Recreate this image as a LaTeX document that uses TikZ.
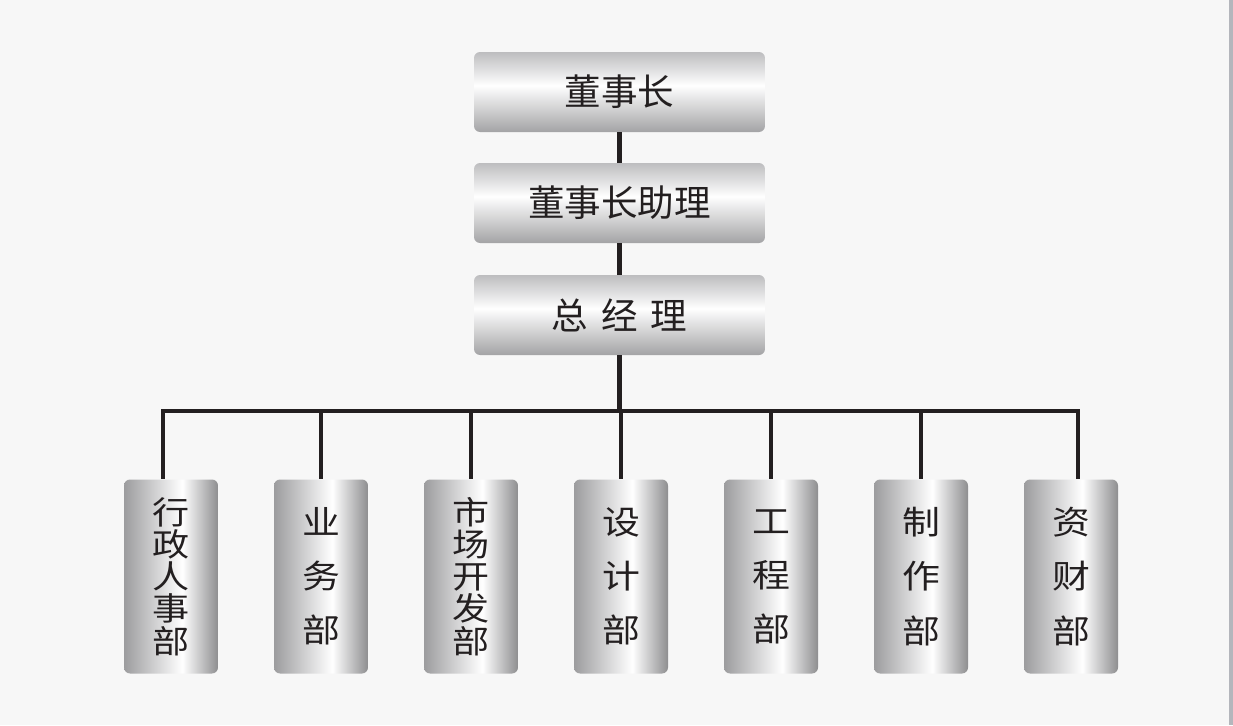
\documentclass[tikz,border=0pt]{standalone}
\usepackage{fontspec}
\newfontfamily\cjk{Noto Sans CJK SC}
\newfontfamily\cjkwide[FakeStretch=1.16]{Noto Sans CJK SC}
\definecolor{pagebg}{HTML}{F7F7F7}
\definecolor{edgebar}{HTML}{B4B6BC}
\definecolor{inkc}{HTML}{231F20}
\definecolor{barlow}{HTML}{A3A3A5}
\definecolor{bartop}{HTML}{BDBDBF}
\definecolor{sideleft}{HTML}{9C9C9E}
\definecolor{sideright}{HTML}{8E8E90}
\pgfdeclareverticalshading{topbar}{100bp}{color(0bp)=(barlow); color(25bp)=(barlow); color(54bp)=(white); color(75bp)=(bartop); color(100bp)=(bartop)}
\pgfdeclarehorizontalshading{sidebar}{100bp}{color(0bp)=(sideleft); color(25bp)=(sideleft); color(56bp)=(white); color(75bp)=(sideright); color(100bp)=(sideright)}
\begin{document}
\begin{tikzpicture}[x=0.02cm, y=-0.02cm,
  headbox/.style={rectangle, rounded corners=0.12cm, shading=topbar, minimum width=5.82cm, minimum height=1.6cm, text=inkc, font=\cjk\fontsize{20.8}{22}\selectfont},
  deptbox/.style={rectangle, rounded corners=0.12cm, shading=sidebar, minimum width=1.88cm, minimum height=3.88cm, text=inkc, align=center},
  longname/.style={font=\cjkwide\fontsize{18.2}{18.3}\selectfont},
  shortname/.style={font=\cjkwide\fontsize{18.6}{30.8}\selectfont},
  link/.style={draw=inkc, line width=2.6pt}]
\useasboundingbox (0,0) rectangle (1233,725);
\fill[pagebg] (0,0) rectangle (1233,725);
\fill[edgebar] (1229,0) rectangle (1233,725);

\node[headbox] (chair) at (619.5,92) {董事长};
\node[headbox] (assist) at (619.5,203) {董事长助理};
\node[headbox] (gm) at (619.5,315) {总\hspace{0.26cm}经\hspace{0.26cm}理};

\node[deptbox, longname] (d1) at (171,576.5) {行\\政\\人\\事\\部};
\node[deptbox, shortname] (d2) at (321,576.5) {业\\务\\部};
\node[deptbox, longname] (d3) at (471,576.5) {市\\场\\开\\发\\部};
\node[deptbox, shortname] (d4) at (621,576.5) {设\\计\\部};
\node[deptbox, shortname] (d5) at (771,576.5) {工\\程\\部};
\node[deptbox, shortname] (d6) at (921,576.5) {制\\作\\部};
\node[deptbox, shortname] (d7) at (1071,576.5) {资\\财\\部};

\coordinate (busl) at (163,411);
\coordinate (busr) at (1078,411);

\draw[link] (chair) -- (assist);
\draw[link] (assist) -- (gm);
\draw[link] (gm.south) -- (gm.south |- busl);
\draw[link, line cap=rect] (busl) -- (busr);
\draw[link] (busl) -- (busl |- d1.north);
\foreach \i in {2,...,6}
  \draw[link] (d\i.north |- busl) -- (d\i.north);
\draw[link] (busr) -- (busr |- d7.north);
\end{tikzpicture}
\end{document}
